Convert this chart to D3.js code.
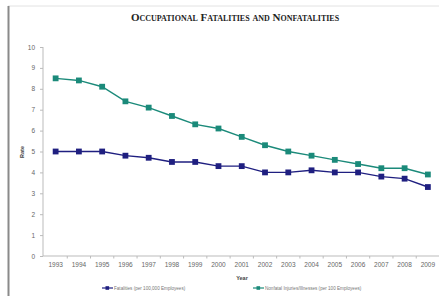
<!DOCTYPE html>
<html>
<head>
<meta charset="utf-8">
<script src="https://cdn.jsdelivr.net/npm/d3@7"></script>
<style>
  body { margin: 0; background: #fff; }
  svg { display: block; }
  .axis text { font-family: "Liberation Sans", Arial, sans-serif; font-size: 6.5px; fill: #666; }
  .axis path, .axis line { stroke: #bbb; }
</style>
</head>
<body>
<div id="chart"></div>
<script>
var years = ["1993", "1994", "1995", "1996", "1997", "1998", "1999", "2000", "2001",
  "2002", "2003", "2004", "2005", "2006", "2007", "2008", "2009"];
var fatalities = [5.0, 5.0, 5.0, 4.8, 4.7, 4.5, 4.5, 4.3, 4.3, 4.0, 4.0, 4.1, 4.0, 4.0, 3.8, 3.7, 3.3];
var nonfatal = [8.5, 8.4, 8.1, 7.4, 7.1, 6.7, 6.3, 6.1, 5.7, 5.3, 5.0, 4.8, 4.6, 4.4, 4.2, 4.2, 3.9];
var yTicks = [0, 1, 2, 3, 4, 5, 6, 7, 8, 9, 10];

var series = [
  { name: "Fatalities (per 100,000 Employees)", values: fatalities, color: "#1f1f80", lx: 102 },
  { name: "Nonfatal Injuries/Illnesses (per 100 Employees)", values: nonfatal, color: "#1b8a7a", lx: 253 }
];

var W = 439, H = 297;

var svg = d3.select("#chart").append("svg")
  .attr("width", W)
  .attr("height", H);

// page frame
svg.append("line").attr("x1", 8).attr("x2", W).attr("y1", 6).attr("y2", 6)
  .attr("stroke", "#e2e2e2").attr("stroke-width", 1);
svg.append("line").attr("x1", 8.5).attr("x2", 8.5).attr("y1", 6).attr("y2", 296)
  .attr("stroke", "#8a8a8a").attr("stroke-width", 2);

svg.append("text")
  .attr("x", 235)
  .attr("y", 21)
  .attr("text-anchor", "middle")
  .style("font-family", "'Liberation Serif', 'DejaVu Serif', serif")
  .style("font-weight", "bold")
  .style("font-variant", "small-caps")
  .style("font-size", "11px")
  .style("fill", "#222")
  .text("Occupational Fatalities and Nonfatalities");

var x = d3.scaleBand()
  .domain(years)
  .range([44, 439.5]);

var y = d3.scaleLinear()
  .domain([0, 10])
  .range([256, 47]);

svg.append("g")
  .attr("class", "axis axis--y")
  .attr("transform", "translate(43,0)")
  .call(d3.axisLeft(y).tickValues(yTicks).tickSize(3).tickPadding(5))
  .call(function (g) { g.select(".domain").attr("d", "M0," + y(10) + "V" + y(0)); });

var xAxis = svg.append("g")
  .attr("class", "axis axis--x")
  .attr("transform", "translate(0,256)")
  .call(d3.axisBottom(x).tickSize(0).tickPadding(6));
xAxis.select(".domain").attr("d", "M43,0H" + W);
xAxis.selectAll(".sep")
  .data(years.slice(1))
  .enter().append("line")
  .attr("class", "sep")
  .attr("x1", function (d) { return x(d); })
  .attr("x2", function (d) { return x(d); })
  .attr("y1", 0).attr("y2", 2.5);

svg.append("text")
  .attr("x", 242)
  .attr("y", 280)
  .attr("text-anchor", "middle")
  .style("font-family", "'Liberation Sans', Arial, sans-serif")
  .style("font-weight", "bold")
  .style("font-size", "5.5px")
  .style("fill", "#444")
  .text("Year");

svg.append("text")
  .attr("transform", "translate(24,152) rotate(-90)")
  .attr("text-anchor", "middle")
  .style("font-family", "'Liberation Sans', Arial, sans-serif")
  .style("font-weight", "bold")
  .style("font-size", "5.5px")
  .style("fill", "#444")
  .text("Rate");

var line = d3.line()
  .x(function (d, i) { return x(years[i]) + x.bandwidth() / 2; })
  .y(function (d) { return y(d); });

var g = svg.selectAll(".series")
  .data(series)
  .enter().append("g")
  .attr("class", "series");

g.append("path")
  .attr("d", function (d) { return line(d.values); })
  .attr("fill", "none")
  .attr("stroke", function (d) { return d.color; })
  .attr("stroke-width", 1.4);

g.selectAll("rect")
  .data(function (d) { return d.values.map(function (v, i) { return { v: v, i: i, c: d.color }; }); })
  .enter().append("rect")
  .attr("x", function (d) { return x(years[d.i]) + x.bandwidth() / 2 - 2.9; })
  .attr("y", function (d) { return y(d.v) - 2.9; })
  .attr("width", 5.8)
  .attr("height", 5.8)
  .attr("fill", function (d) { return d.c; });

// legend
var lg = svg.selectAll(".legend")
  .data(series)
  .enter().append("g")
  .attr("class", "legend")
  .attr("transform", function (d) { return "translate(" + d.lx + ",288)"; });

lg.append("line")
  .attr("x1", 0).attr("x2", 11)
  .attr("stroke", function (d) { return d.color; })
  .attr("stroke-width", 1.2);
lg.append("rect")
  .attr("x", 3.5).attr("y", -1.8).attr("width", 3.6).attr("height", 3.6)
  .attr("fill", function (d) { return d.color; });
lg.append("text")
  .attr("x", 12)
  .attr("dy", "0.35em")
  .style("font-family", "'Liberation Sans', Arial, sans-serif")
  .style("font-size", "4.6px")
  .style("fill", "#777")
  .text(function (d) { return d.name; });
</script>
</body>
</html>
